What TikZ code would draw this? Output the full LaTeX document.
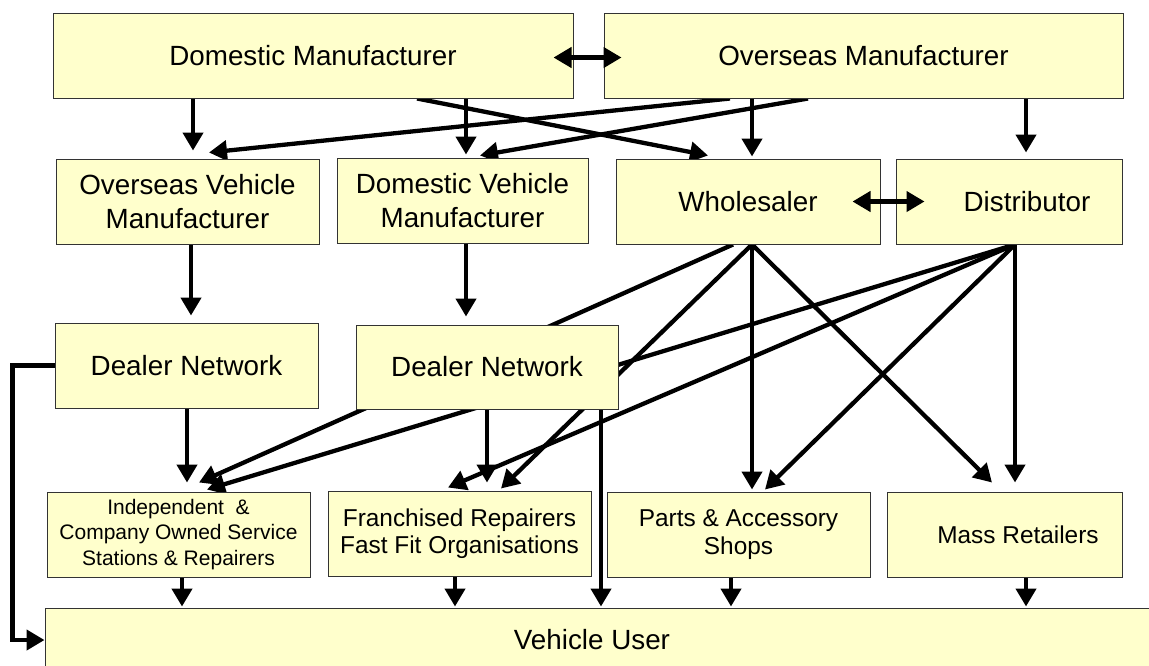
\documentclass[tikz,border=0pt]{standalone}
\usepackage{fontspec}
\setmainfont{Liberation Sans}
\usetikzlibrary{arrows.meta,calc,backgrounds}
\definecolor{boxfill}{HTML}{FFFFCC}
\definecolor{boxline}{HTML}{333333}
\begin{document}
\begin{tikzpicture}[x=1pt,y=-1pt,
  box/.style={draw=boxline,fill=boxfill,line width=1pt,inner sep=0pt,align=center,minimum height=85pt,font=\fontsize{27.8}{34}\selectfont},
  lowfont/.style={font=\fontsize{24.4}{27.5}\selectfont},
  indfont/.style={font=\fontsize{21}{25.5}\selectfont},
  arr/.style={line width=4.3pt,-{Triangle[width=20pt,length=18pt]}},
  darr/.style={line width=4.3pt,{Triangle[width=20pt,length=18pt]}-{Triangle[width=20pt,length=18pt]}}]
\useasboundingbox (0,0) rectangle (1149,665);
\node[box,minimum width=520pt] (dm) at (313,55.5) {Domestic Manufacturer};
\node[box,minimum width=519pt] (om) at (863.5,55.5) {Overseas Manufacturer};
\node[box,minimum width=263pt] (ovm) at (187.5,201.5) {Overseas Vehicle\\Manufacturer};
\node[box,minimum width=251pt] (dvm) at (462.5,200.5) {Domestic Vehicle\\Manufacturer};
\node[box,minimum width=264pt] (ws) at (748,201.5) {Wholesaler};
\node[box,minimum width=226pt] (dist) at (1009,201.5) {\hspace*{36pt}Distributor};
\node[box,minimum width=263pt] (dn1) at (186.5,365.5) {Dealer Network};
\node[box,minimum width=262pt,minimum height=84pt] (dn2) at (487,367) {Dealer Network};
\node[box,indfont,minimum width=263pt] (ind) at (178.5,534.5) {Independent~~\&\\Company Owned Service\\Stations \& Repairers};
\node[box,lowfont,minimum width=263pt] (fr) at (459.5,533.5) {Franchised Repairers\\Fast Fit Organisations};
\node[box,lowfont,minimum width=263pt] (pa) at (738.5,534.5) {Parts \& Accessory\\Shops};
\node[box,lowfont,minimum width=235pt] (mr) at (1004.5,534.5) {\hspace*{27pt}Mass Retailers};
\node[box,minimum width=1120pt,minimum height=64pt] (vu) at (605,640) {Vehicle User\hspace*{26pt}};
\begin{scope}[on background layer]
\draw[arr] (dm.south -| 193,0) -- ($(ovm.north -| 193,0)+(0,-8)$);
\draw[arr] (dm.south -| 466,0) -- ($(dvm.north -| 466,0)+(0,-3)$);
\draw[arr] (dm.south -| 417,0) -- ($(ws.north -| 708,0)+(0,-3)$);
\draw[arr] (om.south -| 730,0) -- ($(ovm.north -| 209,0)+(0,-6)$);
\draw[arr] (om.south -| 808,0) -- ($(dvm.north -| 480,0)+(0,-2)$);
\draw[arr] (om.south -| 752,0) -- ($(ws.north -| 752,0)+(0,-2)$);
\draw[arr] (om.south -| 1026,0) -- ($(dist.north -| 1026,0)+(0,-6)$);
\draw[arr] (ovm.south -| 191,0) -- ($(dn1.north -| 191,0)+(0,-7)$);
\draw[arr] (dvm.south -| 466,0) -- ($(dn2.north -| 466,0)+(0,-8)$);
\draw[arr] (dn1.west) -- ++(-42,0) |- (vu.west);
\draw[arr] (dn1.south -| 187,0) -- ($(ind.north -| 187,0)+(0,-9)$);
\draw[arr] (dn2.south -| 487,0) -- ($(fr.north -| 487,0)+(0,-8)$);
\draw[arr] (dn2.south -| 601,0) -- ($(vu.north -| 601,0)+(0,-1)$);
\draw[arr] (ws.south -| 733,0) -- ($(ind.north -| 199,0)+(0,-9)$);
\draw[arr] (ws.south -| 752,0) -- ($(fr.north -| 501,0)+(0,-2)$);
\draw[arr] (ws.south -| 752,0) -- ($(pa.north -| 752,0)+(0,-2)$);
\draw[arr] (ws.south -| 752,0) -- ($(mr.north -| 992,0)+(0,-9)$);
\draw[arr] (dist.south -| 1015,0) -- ($(ind.north -| 207,0)+(0,-2)$);
\draw[arr] (dist.south -| 1015,0) -- ($(fr.north -| 448,0)+(0,-3)$);
\draw[arr] (dist.south -| 1015,0) -- ($(pa.north -| 765,0)+(0,-2)$);
\draw[arr] (dist.south -| 1015,0) -- ($(mr.north -| 1015,0)+(0,-9)$);
\draw[arr] (ind.south -| 182,0) -- ($(vu.north -| 182,0)+(0,-1)$);
\draw[arr] (fr.south -| 455,0) -- ($(vu.north -| 455,0)+(0,-1)$);
\draw[arr] (pa.south -| 731,0) -- ($(vu.north -| 731,0)+(0,-1)$);
\draw[arr] (mr.south -| 1026,0) -- ($(vu.north -| 1026,0)+(0,-1)$);
\end{scope}
\draw[darr] ($(dm.east)+(-20,2)$) -- ($(om.west)+(18,2)$);
\draw[darr] ($(ws.east)+(-28,0)$) -- ($(dist.west)+(29,0)$);
\end{tikzpicture}
\end{document}
